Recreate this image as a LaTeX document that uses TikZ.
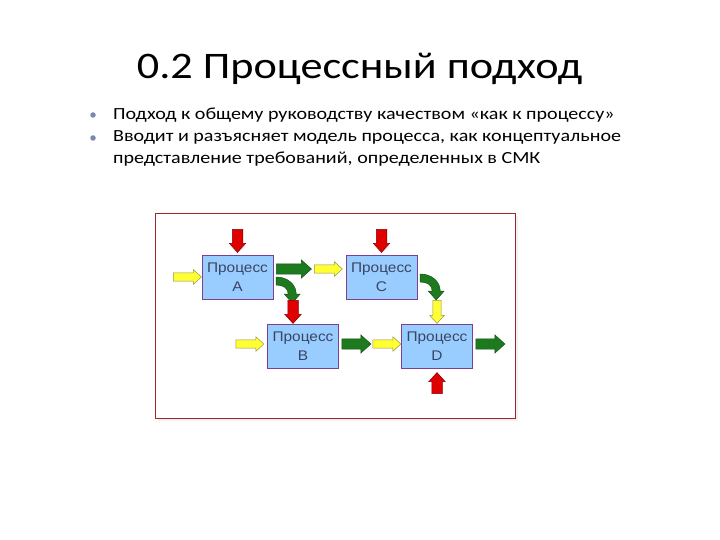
\documentclass[tikz,border=0pt]{standalone}
\usepackage{fontspec}
\setmainfont{Carlito}[FakeStretch=1.18]
\newfontfamily\boxfont{Liberation Sans}[FakeStretch=1.1]
\usetikzlibrary{positioning, calc, shapes.arrows}
\definecolor{procfill}{HTML}{99CCFF}
\definecolor{procline}{HTML}{7F3F8F}
\definecolor{proctext}{HTML}{3A4560}
\definecolor{arrgreen}{HTML}{1E7A1E}
\definecolor{arryellow}{HTML}{FFFF33}
\definecolor{arrred}{HTML}{E00000}
\definecolor{framered}{HTML}{9A2A2A}
\definecolor{dotblue}{HTML}{7A88AA}

\begin{document}
\begin{tikzpicture}[
    x=1pt, y=-1pt,
    proc/.style={draw=procline, fill=procfill, minimum width=71pt, minimum height=44pt,
      inner sep=0pt, align=center, text=proctext, font=\boxfont\fontsize{14}{19}\selectfont},
    blockarr/.style={single arrow, inner xsep=0pt, single arrow tip angle=84, line width=0.5pt},
    yarr/.style={blockarr, fill=arryellow, draw=yellow!55!black, minimum height=28pt,
      inner ysep=3.8pt, single arrow head extend=3.2pt},
    garr/.style={blockarr, fill=arrgreen, draw=arrgreen!70!black, minimum height=29pt,
      inner ysep=4.8pt, single arrow head extend=4pt},
    rarr/.style={blockarr, fill=arrred, draw=arrred!60!black, minimum height=23pt,
      inner ysep=5pt, single arrow head extend=3pt},
    gcurve/.style={fill=arrgreen, draw=arrgreen!70!black, line width=0.5pt, line join=round},
    bline/.style={anchor=base west, inner sep=0pt, font=\fontsize{17}{22}\selectfont},
    dot/.style={circle, fill=dotblue, inner sep=0pt, minimum size=5.5pt}
  ]
  \useasboundingbox (0,0) rectangle (720,540);
  \node[anchor=base, inner sep=0pt, font=\fontsize{37.5}{45}\selectfont] (title) at (359.5,79) {0.2 Процессный подход};

  \node[dot] (dot1) at (93,115) {};
  \node[dot] (dot2) at (93,138) {};
  \node[bline] (line1) at (113,120) {Подход к общему руководству качеством «как к процессу»};
  \node[bline] (line2) at (113,142) {Вводит и разъясняет модель процесса, как концептуальное};
  \node[bline] (line3) at (113,164) {представление требований, определенных в СМК};

  \fill[black!6] (158,216) rectangle (518,421);
  \draw[framered, fill=white, line width=0.8pt] (155,213) rectangle (515,418);

  \node[proc] (A) at (237.5,277) {Процесс\\A};
  \node[proc] (C) at (381.5,277) {Процесс\\C};
  \node[proc] (B) at (303,346) {Процесс\\B};
  \node[proc] (D) at (437,346) {Процесс\\D};

  \node[yarr, anchor=tip] (inA) at (A.west) {};
  \node[rarr, rotate=-90, anchor=tip] (rA) at ([yshift=2pt]A.north) {};
  \node[garr, anchor=tail, minimum height=35pt] (outA) at ([xshift=3pt, yshift=8pt]A.east) {};
  \filldraw[gcurve] ([xshift=3pt]A.east) .. controls +(12,0) and +(0,-9) .. ++(20,17)
    -- ++(4,0) -- ++(-8,9) -- ++(-8,-9) -- ++(4,0)
    .. controls +(0,-6) and +(7,0) .. ++(-12,-9) -- cycle;

  \node[yarr, anchor=tip] (inC) at ([xshift=-3pt, yshift=8pt]C.west) {};
  \node[rarr, rotate=-90, anchor=tip] (rC) at ([yshift=2pt]C.north) {};
  \filldraw[gcurve] ([xshift=3pt, yshift=3pt]C.east) .. controls +(12,0) and +(0,-9) .. ++(20,17)
    -- ++(4,0) -- ++(-8,9) -- ++(-8,-9) -- ++(4,0)
    .. controls +(0,-6) and +(7,0) .. ++(-12,-9) -- cycle;

  \node[rarr, rotate=-90, anchor=tip] (rB) at ([xshift=-10pt]B.north) {};
  \node[yarr, anchor=tip] (inB) at ([xshift=-3pt, yshift=2pt]B.west) {};
  \node[garr, anchor=tail] (outB) at ([xshift=3pt, yshift=2pt]B.east) {};

  \node[yarr, rotate=-90, anchor=tip, minimum height=23pt] (inD) at (D.north) {};
  \node[yarr, anchor=tip] (inD2) at ([yshift=2pt]D.west) {};
  \node[garr, anchor=tail] (outD) at ([xshift=3pt, yshift=2pt]D.east) {};
  \node[rarr, rotate=90, anchor=tip, minimum height=21pt] (rD) at ([yshift=-4pt]D.south) {};
\end{tikzpicture}
\end{document}
